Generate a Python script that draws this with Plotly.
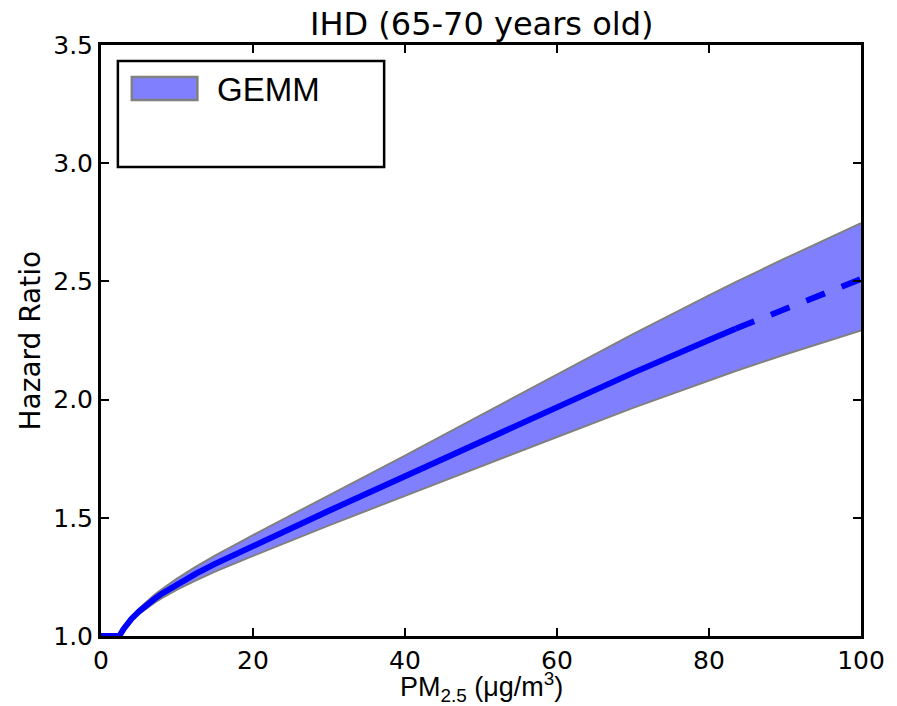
import plotly.graph_objects as go

# ---- data ----
pm25 = [0, 2.4, 3, 3.5, 4, 5, 6, 7, 8, 10, 12.5, 15, 20, 25, 30, 40, 50, 60, 70, 80, 83.5, 90, 100]
hr_mean = [1.0, 1.0, 1.031, 1.053, 1.072, 1.104, 1.132, 1.156, 1.179, 1.219, 1.264, 1.305, 1.382,
           1.457, 1.530, 1.676, 1.823, 1.969, 2.113, 2.252, 2.300, 2.385, 2.510]
hr_upper = [1.0, 1.0, 1.034, 1.058, 1.079, 1.115, 1.146, 1.173, 1.198, 1.243, 1.293, 1.340, 1.427,
            1.512, 1.595, 1.763, 1.934, 2.104, 2.277, 2.441, 2.497, 2.597, 2.746]
hr_lower = [1.0, 1.0, 1.028, 1.048, 1.064, 1.093, 1.118, 1.140, 1.160, 1.196, 1.235, 1.272, 1.339,
            1.404, 1.468, 1.593, 1.719, 1.842, 1.965, 2.081, 2.121, 2.191, 2.293]
split_x = 83.5  # mean curve drawn solid up to here, dashed beyond

x_ticks = [0, 20, 40, 60, 80, 100]
y_ticks = [1.0, 1.5, 2.0, 2.5, 3.0, 3.5]
title_text = "IHD (65-70 years old)"
legend_label = "GEMM"

# ---- layout constants (page body has an 8px margin) ----
OFF = 8
W, H = 897 - OFF, 706 - OFF
L, R, T, B = 101 - OFF, 31, 45 - OFF, 70
PW, PH = W - L - R, H - T - B

def px(xp):
    return (xp - OFF - L) / PW

def py(yp):
    return (H - B - (yp - OFF)) / PH

i_split = pm25.index(split_x)

fig = go.Figure()
fig.add_trace(go.Scatter(x=pm25, y=hr_lower, mode="lines",
                         line=dict(color="#808080", width=2), showlegend=False, hoverinfo="skip"))
fig.add_trace(go.Scatter(x=pm25, y=hr_upper, mode="lines", fill="tonexty", fillcolor="#8080ff",
                         line=dict(color="#808080", width=2), showlegend=False, hoverinfo="skip"))
fig.add_trace(go.Scatter(x=pm25[:i_split + 1], y=hr_mean[:i_split + 1], mode="lines",
                         line=dict(color="#0000ff", width=6), showlegend=False))
fig.add_trace(go.Scatter(x=pm25[i_split:], y=hr_mean[i_split:], mode="lines",
                         line=dict(color="#0000ff", width=6, dash="20px,18px"), showlegend=False))

tick_font = dict(family="DejaVu Sans", size=25, color="black")
axis_common = dict(showline=True, linecolor="black", linewidth=3, mirror="allticks",
                   ticks="inside", ticklen=8, tickwidth=1.5, tickcolor="black",
                   showgrid=False, zeroline=False, tickfont=tick_font)

fig.update_xaxes(range=[0, 100], tickvals=x_ticks, ticktext=[str(v) for v in x_ticks], **axis_common)
fig.update_yaxes(range=[1.0, 3.5], tickvals=y_ticks, ticktext=[f"{v:.1f}" for v in y_ticks], **axis_common)

shapes = [
    # legend frame
    dict(type="rect", xref="paper", yref="paper", x0=px(118), x1=px(386), y0=py(167), y1=py(61),
         line=dict(color="black", width=2.5), fillcolor="white", layer="above"),
    # legend patch
    dict(type="rect", xref="paper", yref="paper", x0=px(132), x1=px(198), y0=py(100), y1=py(77),
         line=dict(color="#808080", width=2.5), fillcolor="#8080ff", layer="above"),
]

annotations = [
    dict(text=title_text, xref="paper", yref="paper", x=0.5, y=1, yanchor="bottom", xanchor="center",
         yshift=0, showarrow=False, font=dict(family="DejaVu Sans", size=32, color="black")),
    dict(text="PM<sub>2.5</sub> (μg/m<sup>3</sup>)", xref="paper", yref="paper", x=0.5, y=0,
         xanchor="center", yanchor="top", yshift=-30, showarrow=False,
         font=dict(family="Liberation Sans", size=27, color="black")),
    dict(text="Hazard Ratio", xref="paper", yref="paper", x=0, y=0.5, textangle=-90,
         xanchor="center", yanchor="middle", xshift=-71, showarrow=False,
         font=dict(family="DejaVu Sans", size=28, color="black")),
    dict(text=legend_label, xref="paper", yref="paper", x=px(216), y=py(89), xanchor="left",
         yanchor="middle", showarrow=False, font=dict(family="Liberation Sans", size=33, color="black")),
]

fig.update_layout(width=W, height=H, margin=dict(l=L, r=R, t=T, b=B),
                  paper_bgcolor="white", plot_bgcolor="white",
                  shapes=shapes, annotations=annotations, showlegend=False)

fig.write_html("out.html")
